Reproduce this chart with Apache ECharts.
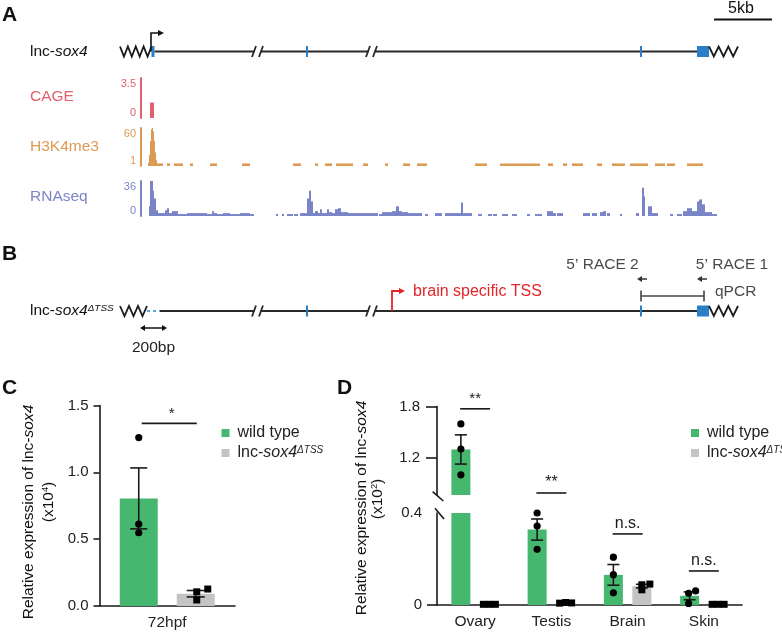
<!DOCTYPE html>
<html><head><meta charset="utf-8">
<script src="https://cdn.jsdelivr.net/npm/echarts@6/dist/echarts.min.js"></script>
<style>html,body{margin:0;padding:0;background:#fff}#c{width:782px;height:634px}</style>
</head><body><div id="c"></div>
<script>
// ================= DATA =================
// Panel A signal tracks: [start, end, signal] in locus units
const cageSegments = [[10, 14, 1.35]];
const h3k4me3Segments = [
  [8,9,6],[9,10,18],[10,11,40],[11,12,58],[12,13,60],[13,14,55],[14,15,40],[15,16,22],[16,17,10],[17,23,5],
  [27,30,5],[34,43,5],[50,53,5],[70,77,5],[102,110,5],[153,161,5],[175,178,5],[185,192,5],[196,213,5],
  [223,228,5],[245,248,5],[263,270,5],[277,287,5],[335,347,5],[360,400,5],[408,413,5],[423,427,5],
  [432,443,5],[457,462,5],[472,485,5],[490,508,5],[515,525,5],[527,535,5],[547,563,5]
];
const rnaseqSegments = [
  [9,10,10],[10,13,36],[13,14,26],[14,16,18],[16,18,6],[18,25,3],[25,27,6],[27,29,8],[29,32,3],[32,38,5],
  [38,47,2],[47,67,3],[67,72,2],[72,74,5],[74,77,3],[77,83,2],[83,90,3],[90,100,2],[100,110,3],[110,114,2],
  [136,138,2],[142,144,2],[147,153,2],[154,158,2],[160,167,3],[167,169,18],[169,171,26],[171,173,15],
  [173,175,3],[175,178,5],[178,180,3],[180,182,7],[182,187,3],[187,189,7],[189,192,4],[192,195,3],
  [195,198,7],[198,201,8],[201,208,4],[208,238,3],[239,242,2],[242,252,4],[252,256,5],[256,259,10],
  [259,262,5],[262,268,4],[268,282,3],[285,288,2],[295,302,3],[305,321,3],[321,323,14],[323,332,3],
  [338,342,2],[348,352,2],[353,357,2],[362,368,2],[372,377,2],[387,390,2],[395,402,2],[407,413,5],
  [413,416,3],[417,423,3],[443,450,3],[452,457,3],[460,463,4],[463,466,5],[467,470,3],[480,482,2],
  [496,499,3],[502,504,29],[504,505,20],[508,512,10],[512,518,3],[530,533,2],[537,542,2],[543,547,5],
  [547,552,8],[552,557,5],[557,559,15],[559,562,17],[562,565,12],[565,572,4],[572,577,2]
];
const trackNames = ['CAGE', 'H3K4me3', 'RNAseq'];
const trackMin = [0, 1, 0];
const trackMax = [3.5, 60, 36];

// Gene model (locus units)
const flank5A = [-20, 11.5];
const flank5B = [-20, 7];
const flank3 = [569, 598];
const firstExon = [11.5, 14.5];
const smallExons = [[166, 168], [500, 502]];
const lastExon = [557, 569];
const breakSites = [[112, 123], [226, 237]];
const deletedTSS = [7, 20];
const brainTSS = 252;
const race2Primer = [497, 507];
const race1Primer = [557, 567];
const qpcrAmplicon = [501, 564];
const bp200 = [0, 27];

// Panel C
const cCategories = ['72hpf'];
const cWildType = [0.805];
const cWildTypeSem = [0.228];
const cWildTypePoints = [[1.26, 0.612, 0.548]];
const cDeltaTSS = [0.092];
const cDeltaTSSSem = [0.024];
const cDeltaTSSPoints = [[0.106, 0.127, 0.045]];
const cSigY = [1.366];
const cSigLabel = ['*'];
const cTicks = [0, 0.5, 1.0, 1.5];

// Panel D
const dCategories = ['Ovary', 'Testis', 'Brain', 'Skin'];
const dWildType = [1.30, 0.328, 0.131, 0.040];
const dWildTypeSem = [0.17, 0.046, 0.045, 0.017];
const dWildTypePoints = [[1.597, 1.305, 1.005], [0.40, 0.343, 0.242], [0.208, 0.132, 0.053], [0.051, 0.061, 0.007]];
const dDeltaTSS = [0.003, 0.010, 0.082, 0.003];
const dDeltaTSSSem = [0.0005, 0.001, 0.008, 0.0005];
const dDeltaTSSPoints = [[0.003, 0.003, 0.003], [0.008, 0.011, 0.009], [0.088, 0.091, 0.066], [0.003, 0.003, 0.003]];
const dSigY = [1.773, 0.487, 0.309, 0.148];
const dSigLabel = ['**', '**', 'n.s.', 'n.s.'];
const dUpperTicks = [1.2, 1.8];
const dLowerTicks = [0, 0.4];
const dUpperRange = [0.77, 1.8];
const dLowerRange = [0, 0.4];

// ================= STYLE =================
const FONT = '"Liberation Sans", Arial, Helvetica, sans-serif';
const GREEN = '#46b76f', GREY = '#c4c4c4', BLUE = '#2b7fc6', RED = '#e3242b';
const TRACK_COLORS = ['#e2606d', '#dc9a52', '#7a85c8'];
const INK = '#1a1a1a';
// point jitter (px)
const C_JIT_WT = [[0, 0, 0]], C_JIT_KO = [[1, 12, 1]];
const D_JIT_WT = [[0, 0, 0], [0, 0, 0], [0, 0, 0], [-1, 6, -1]];
const D_JIT_KO = [[-6, 0, 6], [-6, 0, 6], [0, 8, 0], [-6, 0, 6]];

const chart = echarts.init(document.getElementById('c'), null, {renderer: 'canvas', width: 782, height: 634});

function trackSeries(idx, segs, base, color) {
  return {
    type: 'custom', xAxisIndex: idx, yAxisIndex: idx, data: segs, encode: {x: [0, 1], y: 2}, silent: true,
    renderItem(params, api) {
      const a = api.coord([api.value(0), base]);
      const b = api.coord([api.value(1), api.value(2)]);
      return {type: 'rect', shape: {x: a[0], y: b[1], width: Math.max(b[0] - a[0], 0.8), height: a[1] - b[1]}, style: {fill: color}};
    }
  };
}
function ln(x1, y1, x2, y2, c, w) {
  return {type: 'line', shape: {x1, y1, x2, y2}, style: {stroke: c || INK, lineWidth: w || 1.6}};
}
function errSeries(ax, means, sems, side, cap, keep) {
  const data = means.map((m, i) => [i, m, sems[i]]).filter(keep);
  return {
    type: 'custom', xAxisIndex: ax, yAxisIndex: ax, data, encode: {x: 0, y: 1}, z: 5, silent: true,
    renderItem(params, api) {
      const i = api.value(0), m = api.value(1), e = api.value(2);
      const t = api.coord([i, m + e]), b = api.coord([i, m - e]);
      const x = t[0] + side;
      return {type: 'group', children: [ln(x, t[1], x, b[1]), ln(x - cap, t[1], x + cap, t[1]), ln(x - cap, b[1], x + cap, b[1])]};
    }
  };
}
function ptSeries(ax, pts, jit, side, shape, keep) {
  const data = [];
  pts.forEach((arr, i) => arr.forEach((v, k) => data.push([i, v, k])));
  return {
    type: 'custom', xAxisIndex: ax, yAxisIndex: ax, data: data.filter(keep), encode: {x: 0, y: 1}, z: 6, silent: true,
    renderItem(params, api) {
      const i = api.value(0), v = api.value(1), k = api.value(2);
      const p = api.coord([i, v]);
      const x = p[0] + side + jit[i][k];
      if (shape === 'circle') return {type: 'circle', shape: {cx: x, cy: p[1], r: 3.6}, style: {fill: '#000'}};
      return {type: 'rect', shape: {x: x - 3.5, y: p[1] - 3.5, width: 7, height: 7}, style: {fill: '#000'}};
    }
  };
}
function sigSeries(ax, ys, labels, shift, halfW, gap, fs, keep) {
  const data = ys.map((y, i) => [i, y, i]).filter(keep);
  return {
    type: 'custom', xAxisIndex: ax, yAxisIndex: ax, data, encode: {x: 0, y: 1}, z: 6, silent: true,
    renderItem(params, api) {
      const i = api.value(0), y = api.value(1), li = api.value(2);
      const p = api.coord([i, y]);
      const x = p[0] + shift;
      return {type: 'group', children: [
        ln(x - halfW, p[1], x + halfW, p[1], INK, 1.6),
        {type: 'text', x: x + (labels[li] === '*' ? 2.5 : 0), y: p[1] - gap,
         style: {text: labels[li], fill: INK, font: fs + 'px ' + FONT, align: 'center', verticalAlign: 'bottom'}}
      ]};
    }
  };
}

const axisBlack = {lineStyle: {color: INK, width: 1.6}};
const trackGrids = [{top: 78, height: 40}, {top: 128, height: 38}, {top: 181, height: 35}];

const legendRich = {
  i: {fontStyle: 'italic', fontSize: 16, fontFamily: FONT, color: '#222', lineHeight: 16},
  n: {fontSize: 16, fontFamily: FONT, color: '#222', lineHeight: 16},
  s: {fontStyle: 'italic', fontSize: 10, fontFamily: FONT, color: '#222', lineHeight: 10, verticalAlign: 'top'}
};
const legendFmt = n => n === 'wild type' ? '{n|wild type}' : '{n|lnc-}{i|sox4}{s|ΔTSS}';
function mkLegend(left, top) {
  return {data: ['wild type', 'lnc-sox4ΔTSS'], orient: 'vertical', left, top, itemWidth: 8, itemHeight: 8,
    itemGap: 4, icon: 'rect', selectedMode: false, formatter: legendFmt,
    textStyle: {fontSize: 16, fontFamily: FONT, color: '#222', lineHeight: 16, padding: [0, 0, 0, 3], rich: legendRich}};
}

const option = {
  animation: false,
  backgroundColor: '#fff',
  textStyle: {fontFamily: FONT},
  grid: [
    ...trackGrids.map(g => ({left: 141, width: 580, top: g.top, height: g.height})),
    {left: 99.5, top: 405.5, width: 135.5, height: 200.5},
    {left: 437, top: 406.5, width: 305, height: 88.5},
    {left: 437, top: 513, width: 305, height: 92}
  ],
  xAxis: [
    ...[0, 1, 2].map(i => ({gridIndex: i, type: 'value', min: 1, max: 581, show: false})),
    {gridIndex: 3, type: 'category', data: cCategories, axisLine: axisBlack,
     axisTick: {alignWithLabel: true, length: 6, lineStyle: {color: INK, width: 1.6}},
     axisLabel: {fontSize: 15.5, color: '#222', margin: 9, fontFamily: FONT}},
    {gridIndex: 4, type: 'category', data: dCategories, show: false},
    {gridIndex: 5, type: 'category', data: dCategories, axisLine: axisBlack,
     axisTick: {alignWithLabel: true, length: 5, lineStyle: {color: INK, width: 1.6}},
     axisLabel: {fontSize: 15.5, color: '#222', margin: 9, fontFamily: FONT}}
  ],
  yAxis: [
    ...[0, 1, 2].map(i => ({gridIndex: i, type: 'value', min: trackMin[i], max: trackMax[i],
      splitLine: {show: false}, axisTick: {show: false},
      axisLine: {show: true, lineStyle: {color: TRACK_COLORS[i], width: 2}},
      axisLabel: {customValues: [trackMin[i], trackMax[i]], color: TRACK_COLORS[i], fontSize: 11, margin: 5,
        fontFamily: FONT, verticalAlignMinLabel: 'bottom', verticalAlignMaxLabel: 'top'}})),
    {gridIndex: 3, type: 'value', min: cTicks[0], max: cTicks[cTicks.length - 1], interval: 0.5,
     splitLine: {show: false}, axisLine: {show: true, ...axisBlack},
     axisTick: {show: true, length: 6, lineStyle: {color: INK, width: 1.6}},
     axisLabel: {formatter: v => v.toFixed(1), fontSize: 15, color: '#222', margin: 11, fontFamily: FONT}},
    {gridIndex: 4, type: 'value', min: dUpperRange[0], max: dUpperRange[1],
     splitLine: {show: false}, axisLine: {show: true, ...axisBlack},
     axisTick: {show: true, customValues: dUpperTicks, length: 11, lineStyle: {color: INK, width: 1.6}},
     axisLabel: {customValues: dUpperTicks, formatter: v => v.toFixed(1), fontSize: 15, color: '#222', margin: 17, fontFamily: FONT}},
    {gridIndex: 5, type: 'value', min: dLowerRange[0], max: dLowerRange[1],
     splitLine: {show: false}, axisLine: {show: true, ...axisBlack},
     axisTick: {show: true, customValues: [dLowerTicks[0]], length: 10, lineStyle: {color: INK, width: 1.6}},
     axisLabel: {customValues: dLowerTicks, formatter: v => v === 0 ? '0' : v.toFixed(1), fontSize: 15, color: '#222', margin: 15, fontFamily: FONT}}
  ],
  legend: [mkLegend(216.5, 420), mkLegend(686, 420)],
  series: [
    trackSeries(0, cageSegments, trackMin[0], TRACK_COLORS[0]),
    trackSeries(1, h3k4me3Segments, trackMin[1], TRACK_COLORS[1]),
    trackSeries(2, rnaseqSegments, trackMin[2], TRACK_COLORS[2]),
    // C
    {type: 'bar', name: 'wild type', xAxisIndex: 3, yAxisIndex: 3, data: cWildType, barWidth: 38, barGap: '50%', itemStyle: {color: GREEN}, silent: true},
    {type: 'bar', name: 'lnc-sox4ΔTSS', xAxisIndex: 3, yAxisIndex: 3, data: cDeltaTSS, barWidth: 38, barGap: '50%', itemStyle: {color: GREY}, silent: true},
    errSeries(3, cWildType, cWildTypeSem, -28.5, 8.5, () => true),
    errSeries(3, cDeltaTSS, cDeltaTSSSem, 28.5, 9, () => true),
    ptSeries(3, cWildTypePoints, C_JIT_WT, -28.5, 'circle', () => true),
    ptSeries(3, cDeltaTSSPoints, C_JIT_KO, 28.5, 'square', () => true),
    sigSeries(3, cSigY, cSigLabel, 2, 27.5, 2, 15, () => true),
    // D upper
    {type: 'bar', name: 'wild type', xAxisIndex: 4, yAxisIndex: 4, data: dWildType, barWidth: 19, barGap: '50%', itemStyle: {color: GREEN}, clip: true, silent: true},
    {type: 'bar', name: 'lnc-sox4ΔTSS', xAxisIndex: 4, yAxisIndex: 4, data: dDeltaTSS, barWidth: 19, barGap: '50%', itemStyle: {color: GREY}, clip: true, silent: true},
    // D lower
    {type: 'bar', name: 'wild type', xAxisIndex: 5, yAxisIndex: 5, data: dWildType, barWidth: 19, barGap: '50%', itemStyle: {color: GREEN}, clip: true, silent: true},
    {type: 'bar', name: 'lnc-sox4ΔTSS', xAxisIndex: 5, yAxisIndex: 5, data: dDeltaTSS, barWidth: 19, barGap: '50%', itemStyle: {color: GREY}, clip: true, silent: true},
    errSeries(4, dWildType, dWildTypeSem, -14.25, 6, d => d[1] >= dUpperRange[0]),
    errSeries(5, dWildType, dWildTypeSem, -14.25, 6, d => d[1] < dUpperRange[0]),
    errSeries(5, dDeltaTSS, dDeltaTSSSem, 14.25, 6, () => true),
    ptSeries(4, dWildTypePoints, D_JIT_WT, -14.25, 'circle', d => d[1] >= dUpperRange[0]),
    ptSeries(5, dWildTypePoints, D_JIT_WT, -14.25, 'circle', d => d[1] < dUpperRange[0]),
    ptSeries(5, dDeltaTSSPoints, D_JIT_KO, 14.25, 'square', () => true),
    sigSeries(4, dSigY, dSigLabel, 0, 15, 2, 15, d => d[1] >= dUpperRange[0]),
    sigSeries(5, dSigY, dSigLabel, 0, 15, 2, 16, d => d[1] < dUpperRange[0])
  ]
};
chart.setOption(option);

// ================= schematic graphics =================
const X = v => chart.convertToPixel({xAxisIndex: 0}, v);
const LINE = '#2a2a2a';
function gl(x1, y1, x2, y2, c, w, dash) {
  return {type: 'line', silent: true, shape: {x1, y1, x2, y2}, style: {stroke: c || LINE, lineWidth: w || 1.8, lineDash: dash || null}};
}
function zig(a, b, y, n) {
  const x0 = X(a), x1 = X(b), step = (x1 - x0) / (2 * n), pts = [];
  for (let k = 0; k <= 2 * n; k++) pts.push([x0 + k * step, y + (k % 2 === 0 ? -5 : 5)]);
  return {type: 'polyline', silent: true, shape: {points: pts}, style: {stroke: '#1a1a1a', lineWidth: 1.8, fill: null}};
}
function rect(a, b, y, h, c) {
  return {type: 'rect', silent: true, shape: {x: X(a), y: y - h / 2, width: X(b) - X(a), height: h}, style: {fill: c}};
}
function tri(tipX, y, dir, len, half, c) {
  return {type: 'polygon', silent: true, shape: {points: [[tipX, y], [tipX - dir * len, y - half], [tipX - dir * len, y + half]]}, style: {fill: c}};
}
function txt(x, y, text, opt) {
  opt = opt || {};
  return {type: 'text', silent: true, x, y, rotation: opt.rot || 0,
    style: {text, fill: opt.color || '#111', font: (opt.bold ? 'bold ' : '') + (opt.size || 15.5) + 'px ' + FONT,
      align: opt.align || 'left', verticalAlign: opt.va || 'middle', rich: opt.rich}};
}
function geneModel(y, startAt) {
  const els = [];
  const segStart = startAt;
  let cur = segStart;
  breakSites.forEach(([b0, b1]) => {
    els.push(gl(X(cur), y, X(b0 + 2.5), y));
    els.push(gl(X(b0), y + 5.5, X(b0 + 4), y - 5.5));
    els.push(gl(X(b1 - 4), y + 5.5, X(b1), y - 5.5));
    cur = b1 - 2.5;
  });
  els.push(gl(X(cur), y, X(lastExon[0]), y));
  smallExons.forEach(([a, b]) => els.push(rect(a, b, y, 11, BLUE)));
  els.push(rect(lastExon[0], lastExon[1], y, 11, BLUE));
  els.push(zig(flank3[0], flank3[1], y, 3));
  return els;
}

const richLnc = (size, color) => ({
  n: {fontSize: size, fontFamily: FONT, color},
  i: {fontSize: size, fontFamily: FONT, color, fontStyle: 'italic'},
  s: {fontSize: size * 0.64, fontFamily: FONT, color, fontStyle: 'italic', verticalAlign: 'top', lineHeight: 10},
  p: {fontSize: size * 0.6, fontFamily: FONT, color, verticalAlign: 'top', lineHeight: 9}
});

const yA = 51.5, yB = 311;
const g = [];
// Panel letters
g.push(txt(2, 15, 'A', {bold: true, size: 21}));
g.push(txt(2, 254, 'B', {bold: true, size: 21}));
g.push(txt(2, 388, 'C', {bold: true, size: 21}));
g.push(txt(337, 388, 'D', {bold: true, size: 21}));
// scale bar
g.push(gl(714, 19.5, 772, 19.5, '#111', 2));
g.push(txt(741, 9, '5kb', {align: 'center', size: 16}));
// Panel A gene model
g.push(txt(30, yA, '{n|lnc-}{i|sox4}', {rich: richLnc(15.5, '#111')}));
g.push(zig(flank5A[0], flank5A[1], yA, 4));
g.push(...geneModel(yA, firstExon[1]));
g.push(rect(firstExon[0], firstExon[1], yA, 11, BLUE));
g.push({type: 'polyline', silent: true, shape: {points: [[X(11), yA], [X(11), yA - 18.5], [X(19), yA - 18.5]]}, style: {stroke: '#111', lineWidth: 1.6, fill: null}});
g.push(tri(X(24), yA - 18.5, 1, 6, 3, '#111'));
// track labels
trackNames.forEach((n, i) => g.push(txt(30, [97, 147, 197][i], n, {color: TRACK_COLORS[i], size: 15.5})));
// Panel B gene model
g.push(txt(30, yB, '{n|lnc-}{i|sox4}{s|ΔTSS}', {rich: richLnc(15.5, '#333')}));
g.push(zig(flank5B[0], flank5B[1], yB, 3));
g.push(gl(X(deletedTSS[0]), yB, X(deletedTSS[1]), yB, '#5aa7e0', 2, [3, 3]));
g.push(...geneModel(yB, deletedTSS[1]));
g.push({type: 'polyline', silent: true, shape: {points: [[X(brainTSS), yB], [X(brainTSS), yB - 20], [X(brainTSS + 7), yB - 20]]}, style: {stroke: RED, lineWidth: 1.8, fill: null}});
g.push(tri(X(brainTSS + 13), yB - 20, 1, 6, 3, RED));
g.push(txt(413, 292, 'brain specific TSS', {color: RED, size: 16}));
// RACE primers & qPCR
[race2Primer, race1Primer].forEach(([a, b]) => {
  g.push(gl(X(a + 4), 279, X(b), 279, '#333', 1.5));
  g.push(tri(X(a), 279, -1, 5, 3, '#333'));
});
g.push(txt(602.5, 265, '5’ RACE 2', {align: 'center', size: 15.5, color: '#4a4a4a'}));
g.push(txt(732, 265, '5’ RACE 1', {align: 'center', size: 15.5, color: '#4a4a4a'}));
g.push(gl(X(qpcrAmplicon[0]), 296, X(qpcrAmplicon[1]), 296, '#444', 1.6));
g.push(gl(X(qpcrAmplicon[0]), 290.5, X(qpcrAmplicon[0]), 301.5, '#444', 1.6));
g.push(gl(X(qpcrAmplicon[1]), 290.5, X(qpcrAmplicon[1]), 301.5, '#444', 1.6));
g.push(txt(715, 292, 'qPCR', {size: 15.5, color: '#4a4a4a'}));
// 200bp
g.push(gl(X(bp200[0]) + 4, 328, X(bp200[1]) - 4, 328, '#111', 1.5));
g.push(tri(X(bp200[0]), 328, -1, 5, 3, '#111'));
g.push(tri(X(bp200[1]), 328, 1, 5, 3, '#111'));
g.push(txt((X(bp200[0]) + X(bp200[1])) / 2, 348, '200bp', {align: 'center', size: 15.5, color: '#222'}));
// y-axis titles C and D
const yTitleRich = richLnc(15.5, '#222');
g.push(txt(28.5, 512, '{n|Relative expression of lnc-}{i|sox4}', {rot: Math.PI / 2, align: 'center', rich: yTitleRich}));
g.push(txt(49, 502, '{n|(x10}{p|4}{n|)}', {rot: Math.PI / 2, align: 'center', rich: yTitleRich}));
g.push(txt(362, 508, '{n|Relative expression of lnc-}{i|sox4}', {rot: Math.PI / 2, align: 'center', rich: yTitleRich}));
g.push(txt(378, 499, '{n|(x10}{p|2}{n|)}', {rot: Math.PI / 2, align: 'center', rich: yTitleRich}));
// axis break marks D
g.push(gl(432.7, 491.7, 443.3, 501, INK, 1.6));
g.push(gl(435, 508.3, 444, 519, INK, 1.6));

chart.setOption({graphic: {elements: g}});
</script>
</body></html>
